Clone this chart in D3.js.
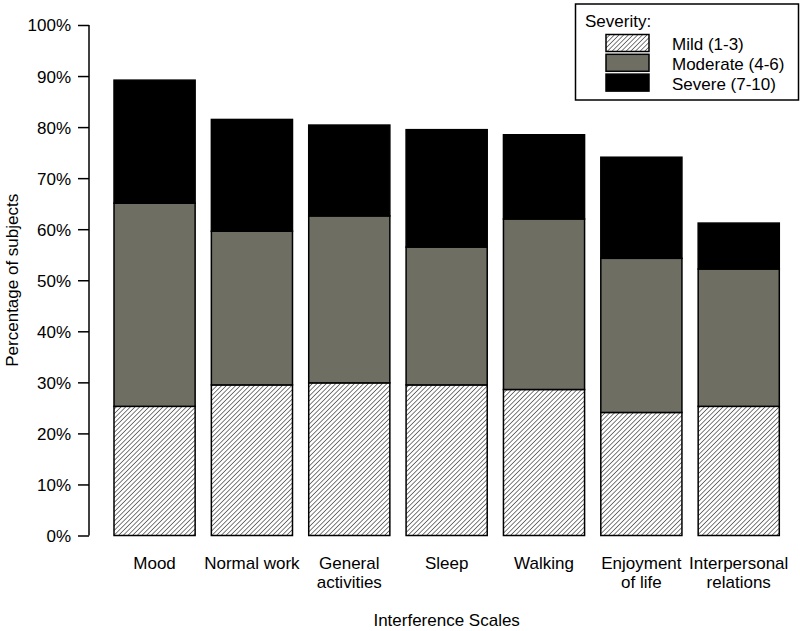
<!DOCTYPE html>
<html>
<head>
<meta charset="utf-8">
<script src="https://cdn.jsdelivr.net/npm/d3@7"></script>
<style>
  html, body { margin: 0; padding: 0; background: #fff; }
  svg text { font-family: "Liberation Sans", Arial, Helvetica, sans-serif; fill: #000; }
</style>
</head>
<body>
<svg id="chart" width="800" height="631"></svg>
<script>
const categories = ["Mood", "Normal work", "General activities", "Sleep", "Walking", "Enjoyment of life", "Interpersonal relations"];
const categoryLines = [["Mood"], ["Normal work"], ["General", "activities"], ["Sleep"], ["Walking"], ["Enjoyment", "of life"], ["Interpersonal", "relations"]];
const mild = [25.3, 29.5, 29.9, 29.5, 28.6, 24.1, 25.3];
const moderate = [39.8, 30.1, 32.7, 27.0, 33.4, 30.2, 26.9];
const severe = [24.1, 21.9, 17.8, 23.0, 16.5, 19.8, 9.0];
const seriesKeys = ["mild", "moderate", "severe"];
const legendLabels = ["Mild (1-3)", "Moderate (4-6)", "Severe (7-10)"];
const yTicks = [0, 10, 20, 30, 40, 50, 60, 70, 80, 90, 100];

const table = categories.map((c, i) => ({ cat: c, mild: mild[i], moderate: moderate[i], severe: severe[i] }));

const svg = d3.select("#chart");
const defs = svg.append("defs");
const ps = 3.3;
const pat = defs.append("pattern")
  .attr("id", "hatch").attr("patternUnits", "userSpaceOnUse")
  .attr("width", ps).attr("height", ps)
  .attr("patternTransform", "rotate(45)");
pat.append("rect").attr("width", ps).attr("height", ps).attr("fill", "#fff");
pat.append("line").attr("x1", 0).attr("y1", 0).attr("x2", 0).attr("y2", ps)
  .attr("stroke", "#505050").attr("stroke-width", 1.5);

const fills = { mild: "url(#hatch)", moderate: "#6e6e63", severe: "#000" };

const x = d3.scaleBand().domain(categories).range([114, 779.3]).paddingInner(1/6).paddingOuter(0);
const y = d3.scaleLinear().domain([0, 100]).range([535.5, 25]);

const stack = d3.stack().keys(seriesKeys)(table);

svg.append("g").selectAll("g").data(stack).join("g")
  .attr("fill", d => fills[d.key])
  .selectAll("rect").data(d => d).join("rect")
  .attr("x", d => x(d.data.cat))
  .attr("width", x.bandwidth())
  .attr("y", d => y(d[1]))
  .attr("height", d => y(d[0]) - y(d[1]))
  .attr("stroke", "#000").attr("stroke-width", 1.5);

// Y axis
const yAxis = d3.axisLeft(y).tickValues(yTicks).tickFormat(d => d + "%").tickSize(11).tickPadding(7);
const gy = svg.append("g").attr("transform", "translate(89,0)").call(yAxis);
gy.select(".domain").attr("stroke", "#000").attr("stroke-width", 1.5).attr("d", `M0,${y(100)}V${y(0)}`);
gy.selectAll(".tick line").attr("stroke", "#000").attr("stroke-width", 1.5);
gy.selectAll(".tick text").attr("font-size", 17).attr("font-family", '"Liberation Sans", Arial, sans-serif').attr("dy", "0.35em");

// X labels
const xl = svg.append("g");
categories.forEach((c, i) => {
  const t = xl.append("text").attr("text-anchor", "middle").attr("font-size", 17)
    .attr("x", x(c) + x.bandwidth() / 2).attr("y", 569);
  categoryLines[i].forEach((line, j) => {
    t.append("tspan").attr("x", x(c) + x.bandwidth() / 2).attr("dy", j === 0 ? 0 : 18.5).text(line);
  });
});

// Axis titles
svg.append("text").attr("text-anchor", "middle").attr("font-size", 17)
  .attr("x", (x.range()[0] + x.range()[1]) / 2).attr("y", 626).text("Interference Scales");
svg.append("text").attr("text-anchor", "middle").attr("font-size", 17)
  .attr("transform", `translate(18,${(y(0) + y(100)) / 2}) rotate(-90)`).text("Percentage of subjects");

// Legend
const lg = svg.append("g");
lg.append("rect").attr("x", 575.5).attr("y", 4).attr("width", 223).attr("height", 96)
  .attr("fill", "#fff").attr("stroke", "#000").attr("stroke-width", 1.5);
lg.append("text").attr("x", 585).attr("y", 27).attr("font-size", 17).text("Severity:");
seriesKeys.forEach((k, i) => {
  lg.append("rect").attr("x", 606).attr("y", 34.5 + i * 19.8).attr("width", 43).attr("height", 17)
    .attr("fill", fills[k]).attr("stroke", "#000").attr("stroke-width", 1.5);
  lg.append("text").attr("x", 672).attr("y", 50 + i * 20.2).attr("font-size", 17).text(legendLabels[i]);
});
</script>
</body>
</html>
